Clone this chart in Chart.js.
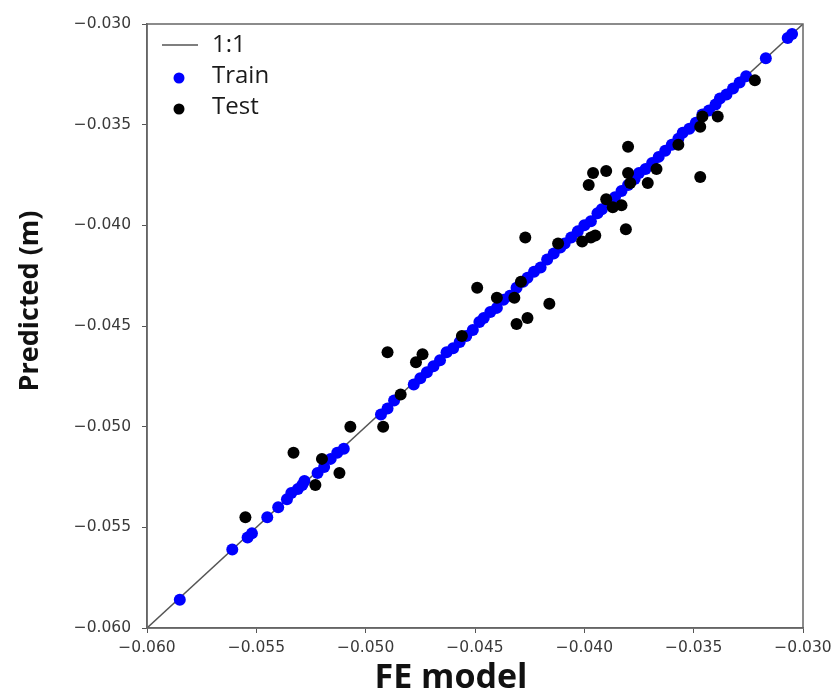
<!DOCTYPE html>
<html>
<head>
<meta charset="utf-8">
<script src="https://cdn.jsdelivr.net/npm/chart.js@4.4.1/dist/chart.umd.min.js"></script>
<style>
  html, body { margin: 0; padding: 0; background: #fff; }
  #wrap { width: 834px; height: 697px; }
</style>
</head>
<body>
<div id="wrap"><canvas id="chart" width="834" height="697"></canvas></div>
<script>
// FE model displacement vs. surrogate prediction (m)
const testFE = [
  -0.0322, -0.0346, -0.0339, -0.0347, -0.0357, -0.0380, -0.0396, -0.0390, -0.0380, -0.0367,
  -0.0398, -0.0379, -0.0371, -0.0347, -0.0390, -0.0387, -0.0383, -0.0381, -0.0401, -0.0397,
  -0.0395, -0.0427, -0.0412, -0.0449, -0.0440, -0.0432, -0.0429, -0.0416, -0.0431, -0.0426,
  -0.0456, -0.0474, -0.0490, -0.0477, -0.0484, -0.0507, -0.0492, -0.0533, -0.0520, -0.0512,
  -0.0523, -0.0555
];
const testPred = [
  -0.0328, -0.0346, -0.0346, -0.0351, -0.0360, -0.0361, -0.0374, -0.0373, -0.0374, -0.0372,
  -0.0380, -0.0379, -0.0379, -0.0376, -0.0387, -0.0391, -0.0390, -0.0402, -0.0408, -0.0406,
  -0.0405, -0.0406, -0.0409, -0.0431, -0.0436, -0.0436, -0.0428, -0.0439, -0.0449, -0.0446,
  -0.0455, -0.0464, -0.0463, -0.0468, -0.0484, -0.0500, -0.0500, -0.0513, -0.0516, -0.0523,
  -0.0529, -0.0545
];

const trainFE = [
  -0.0585, -0.0561, -0.0554, -0.0552, -0.0545, -0.0540, -0.0536, -0.0534, -0.0531, -0.0529,
  -0.0528, -0.0522, -0.0519, -0.0516, -0.0513, -0.0510, -0.0493, -0.0490, -0.0487, -0.0478,
  -0.0475, -0.0472, -0.0469, -0.0466, -0.0463, -0.0460, -0.0457, -0.0454, -0.0451, -0.0448,
  -0.0446, -0.0443, -0.0440, -0.0437, -0.0434, -0.0431, -0.0428, -0.0426, -0.0423, -0.0420,
  -0.0417, -0.0414, -0.0411, -0.0409, -0.0406, -0.0403, -0.0400, -0.0397, -0.0394, -0.0392,
  -0.0389, -0.0386, -0.0383, -0.0380, -0.0377, -0.0375, -0.0372, -0.0369, -0.0366, -0.0363,
  -0.0360, -0.0357, -0.0355, -0.0352, -0.0349, -0.0346, -0.0343, -0.0340, -0.0338, -0.0335,
  -0.0332, -0.0329, -0.0326, -0.0317, -0.0307, -0.0305
];
const trainPred = [
  -0.0586, -0.0561, -0.0555, -0.0553, -0.0545, -0.0540, -0.0536, -0.0533, -0.0531, -0.0529,
  -0.0527, -0.0523, -0.0520, -0.0516, -0.0513, -0.0511, -0.0494, -0.0491, -0.0487, -0.0479,
  -0.0476, -0.0473, -0.0470, -0.0467, -0.0463, -0.0461, -0.0458, -0.0455, -0.0452, -0.0448,
  -0.0446, -0.0443, -0.0441, -0.0437, -0.0435, -0.0431, -0.0428, -0.0426, -0.0423, -0.0421,
  -0.0417, -0.0414, -0.0411, -0.0409, -0.0406, -0.0403, -0.0400, -0.0398, -0.0394, -0.0392,
  -0.0389, -0.0386, -0.0383, -0.0380, -0.0377, -0.0374, -0.0372, -0.0369, -0.0366, -0.0363,
  -0.0360, -0.0357, -0.0354, -0.0352, -0.0349, -0.0345, -0.0343, -0.0340, -0.0337, -0.0335,
  -0.0332, -0.0329, -0.0326, -0.0317, -0.0307, -0.0305
];

// 1:1 reference line endpoints
const lineEnds = [-0.060, -0.030];
const axisMin = -0.060;
const axisMax = -0.030;
const axisStep = 0.005;

const xTitle = 'FE model';
const yTitle = 'Predicted (m)';

const toPoints = (xs, ys) => xs.map((x, i) => ({ x: x, y: ys[i] }));

function fmtTick(v) {
  return v.toFixed(3).replace('-', '\u2212');
}

// box round the plot area, like matplotlib spines
const frame = {
  id: 'frame',
  afterDatasetsDraw(chart) {
    const a = chart.chartArea;
    const ctx = chart.ctx;
    ctx.save();
    ctx.strokeStyle = '#666';
    ctx.lineWidth = 1.5;
    ctx.strokeRect(a.left, a.top, a.right - a.left, a.bottom - a.top);
    ctx.restore();
  }
};

// axis titles sit a little off-centre, so place them by hand
const axisTitles = {
  id: 'axisTitles',
  afterDraw(chart) {
    const a = chart.chartArea;
    const ctx = chart.ctx;
    ctx.save();
    ctx.fillStyle = '#111';
    ctx.textAlign = 'center';
    ctx.textBaseline = 'middle';
    ctx.font = 'bold 34px "Open Sans"';
    ctx.fillText(xTitle, (a.left + a.right) / 2 - 24, a.bottom + 50);
    ctx.translate(30, (a.top + a.bottom) / 2 - 25);
    ctx.rotate(-Math.PI / 2);
    ctx.font = 'bold 27px "Open Sans"';
    ctx.fillText(yTitle, 0, 0);
    ctx.restore();
  }
};

// legend drawn inside the upper-left corner
const innerLegend = {
  id: 'innerLegend',
  afterDraw(chart) {
    const a = chart.chartArea;
    const ctx = chart.ctx;
    const ds = chart.data.datasets;
    const rows = [ds[2], ds[1], ds[0]];
    ctx.save();
    ctx.font = '24px "Open Sans"';
    ctx.textBaseline = 'middle';
    rows.forEach((d, i) => {
      const y = a.top + 21 + i * 31;
      if (d.showLine) {
        ctx.strokeStyle = d.borderColor;
        ctx.lineWidth = 1.5;
        ctx.beginPath();
        ctx.moveTo(a.left + 15, y);
        ctx.lineTo(a.left + 51, y);
        ctx.stroke();
      } else {
        ctx.fillStyle = d.backgroundColor;
        ctx.beginPath();
        ctx.arc(a.left + 32, y + 2, 5.5, 0, Math.PI * 2);
        ctx.fill();
      }
      ctx.fillStyle = '#1a1a1a';
      ctx.fillText(d.label, a.left + 65, y);
    });
    ctx.restore();
  }
};

const tickFont = { family: 'DejaVu Sans', size: 15.5 };

new Chart(document.getElementById('chart').getContext('2d'), {
  type: 'scatter',
  data: {
    datasets: [
      {
        label: 'Test',
        data: toPoints(testFE, testPred),
        backgroundColor: '#000',
        borderWidth: 0,
        pointRadius: 6
      },
      {
        label: 'Train',
        data: toPoints(trainFE, trainPred),
        backgroundColor: '#0000ff',
        borderWidth: 0,
        pointRadius: 6
      },
      {
        label: '1:1',
        data: toPoints(lineEnds, lineEnds),
        showLine: true,
        borderColor: '#555',
        borderWidth: 1.5,
        pointRadius: 0,
        fill: false
      }
    ]
  },
  options: {
    responsive: false,
    animation: false,
    layout: { padding: { top: 24, right: 31, left: 0, bottom: 0 } },
    plugins: {
      legend: { display: false },
      tooltip: { enabled: false }
    },
    scales: {
      x: {
        type: 'linear',
        min: axisMin,
        max: axisMax,
        afterFit: s => {
          s.height = 69;
          // end labels may hang past the plot edge
          s.paddingLeft = 0;
          s.paddingRight = 0;
        },
        ticks: {
          stepSize: axisStep,
          callback: fmtTick,
          font: tickFont,
          color: '#3a3a3a',
          padding: 6,
          maxRotation: 0,
          autoSkip: false
        },
        grid: { drawOnChartArea: false, tickLength: 5, color: '#555' },
        border: { display: true, color: '#666', width: 1.5 }
      },
      y: {
        type: 'linear',
        min: axisMin,
        max: axisMax,
        afterFit: s => {
          s.width = 147;
          s.paddingTop = 0;
          s.paddingBottom = 0;
        },
        ticks: {
          stepSize: axisStep,
          callback: fmtTick,
          font: tickFont,
          color: '#3a3a3a',
          padding: 11,
          autoSkip: false
        },
        grid: { drawOnChartArea: false, tickLength: 5, color: '#555' },
        border: { display: true, color: '#666', width: 1.5 }
      }
    }
  },
  plugins: [frame, axisTitles, innerLegend]
});
</script>
</body>
</html>
